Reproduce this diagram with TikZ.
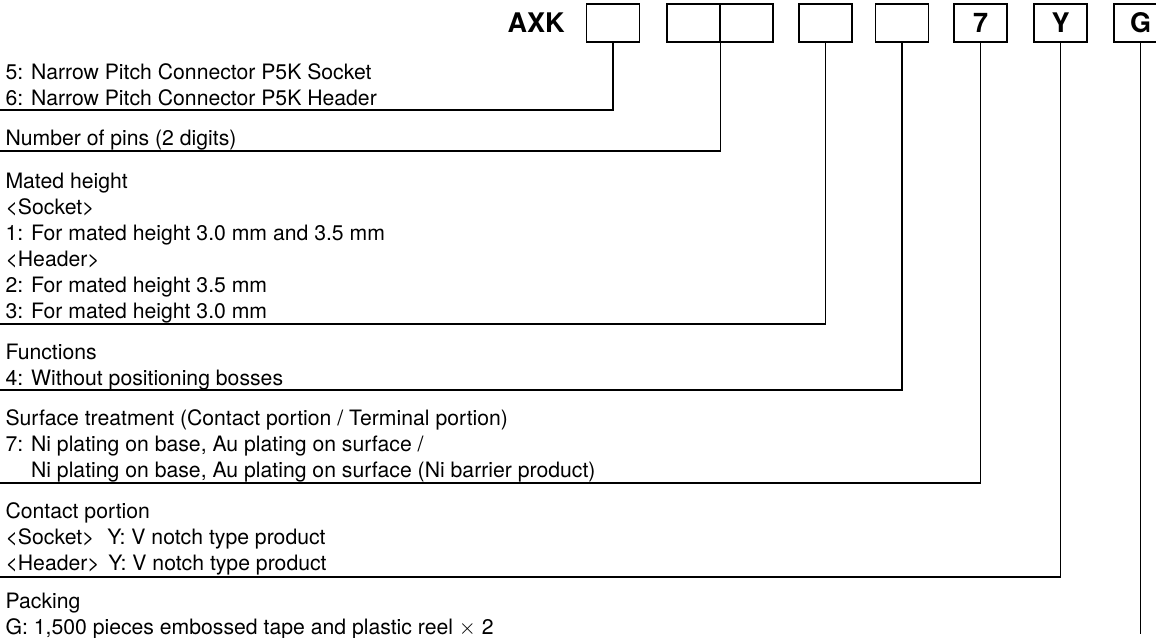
\documentclass[tikz,border=0pt]{standalone}
\usepackage{fontspec}
\setmainfont{TeX Gyre Heros}
\usetikzlibrary{calc}

\begin{document}
\begin{tikzpicture}[x=0.5pt, y=-0.5pt, line width=0.55pt,
  codebox/.style={draw, minimum width=26.5pt, minimum height=19pt, inner sep=0pt,
    font=\fontsize{13.5pt}{14pt}\selectfont\bfseries},
  desc/.style={anchor=base west, align=left, inner sep=0pt,
    font=\fontsize{10.6pt}{13pt}\selectfont}]
 \useasboundingbox (0,0) rectangle (1156,637);
 % part number boxes
 \node[font=\fontsize{13.5pt}{14pt}\selectfont\bfseries] (axk) at (536,23) {AXK};
 \node[codebox] (b1) at (613,23) {};
 \node[codebox] (b2a) at (693.5,23) {};
 \node[codebox] (b2b) at (746.5,23) {};
 \node[codebox] (b3) at (825.5,23) {};
 \node[codebox] (b4) at (902,23) {};
 \node[codebox] (b5) at (980.5,23) {7};
 \node[codebox] (b6) at (1060.5,23) {Y};
 \node[codebox] (b7) at (1140.5,23) {G};

 % descriptions (anchored below their last line)
 \node[desc] (tType) at (5,105) {5: Narrow Pitch Connector P5K Socket\\
   6: Narrow Pitch Connector P5K Header};
 \node[desc] (tPins) at (5,145) {Number of pins (2 digits)};
 \node[desc] (tHeight) at (5,318) {Mated height\\ <Socket>\\
   1: For mated height 3.0 mm and 3.5 mm\\ <Header>\\
   2: For mated height 3.5 mm\\ 3: For mated height 3.0 mm};
 \node[desc] (tFunc) at (5,385) {Functions\\ 4: Without positioning bosses};
 \node[desc] (tSurf) at (5,477) {Surface treatment (Contact portion / Terminal portion)\\
   7: Ni plating on base, Au plating on surface /\\
   \hphantom{7: }Ni plating on base, Au plating on surface (Ni barrier product)};
 \node[desc] (tContact) at (5,570) {Contact portion\\
   <Socket>\hspace{0.6em}Y: V notch type product\\
   <Header>\hspace{0.4em}Y: V notch type product};
 \node[desc] (tPack) at (5,634) {Packing\\
   G: 1,500 pieces embossed tape and plastic reel $\times$ 2};

 % leader lines
 \coordinate (lA) at (0,110);
 \coordinate (lB) at (0,151);
 \coordinate (lC) at (0,324);
 \coordinate (lD) at (0,390);
 \coordinate (lE) at (0,483);
 \coordinate (lF) at (0,577);
 \coordinate (gEnd) at (1140.5,634);
 \draw (lA) -| (b1);
 \draw (lB) -| (b2a.south east);
 \draw (lC) -| (b3);
 \draw (lD) -| (b4);
 \draw (lE) -| (b5);
 \draw (lF) -| (b6);
 \draw (b7) -- (gEnd);
\end{tikzpicture}
\end{document}
